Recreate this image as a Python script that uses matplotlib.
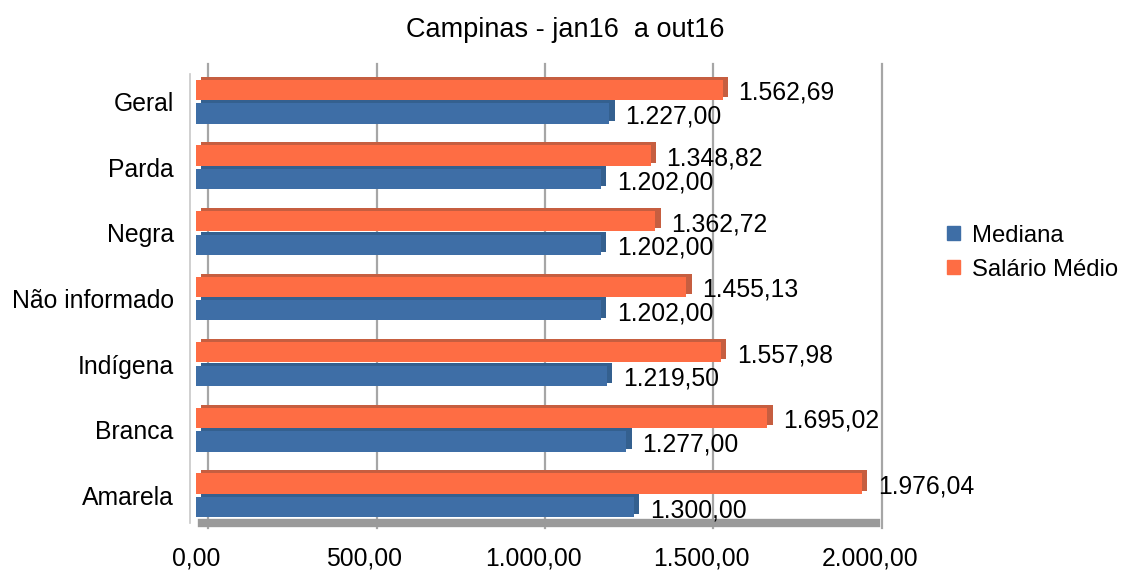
import matplotlib
matplotlib.use("Agg")
import matplotlib.pyplot as plt
import matplotlib.transforms as mtransforms
from matplotlib.patches import Patch
import numpy as np

categorias = ['Amarela', 'Branca', 'Indígena', 'Não informado', 'Negra', 'Parda', 'Geral']
mediana = [1300.00, 1277.00, 1219.50, 1202.00, 1202.00, 1202.00, 1227.00]
salario_medio = [1976.04, 1695.02, 1557.98, 1455.13, 1362.72, 1348.82, 1562.69]
ticks_x = [0, 500, 1000, 1500, 2000]

azul = '#3e6ea6'
azul_escuro = '#34608f'
laranja = '#fe6d44'
laranja_escuro = '#c65e40'


def formatar(v):
    s = f"{v:,.2f}"
    return s.replace(",", "X").replace(".", ",").replace("X", ".")


plt.rcParams['font.family'] = ['Liberation Sans', 'DejaVu Sans']
fs = 17.8

fig = plt.figure(figsize=(11.24, 5.74), dpi=100)
ax = fig.add_axes([0.1744, 0.0801, 0.5996, 0.7997])
ax.set_xlim(0, 2000)
ax.set_ylim(-0.5, 6.5)

# parede do fundo deslocada (efeito 3D)
fundo = ax.get_xaxis_transform() + mtransforms.ScaledTranslation(0.12, 0.0, fig.dpi_scale_trans)
for t in ticks_x:
    ax.plot([t, t], [0.0, 1.01], transform=fundo, color='#a6a6a6', lw=1.6, zorder=0, clip_on=False)
frente = ax.get_xaxis_transform() + mtransforms.ScaledTranslation(-0.06, 0.0, fig.dpi_scale_trans)
ax.plot([0, 0], [0.01, 0.99], transform=frente, color='#c8c8c8', lw=1.2, zorder=0, clip_on=False)
# piso
ax.plot([0, 2000], [-0.42, -0.42], color='#9a9a9a', lw=6, zorder=0, clip_on=False,
        transform=ax.transData + mtransforms.ScaledTranslation(0.06, 0.0, fig.dpi_scale_trans))

y = np.arange(len(categorias))
h = 0.31
dx = 16
dy = 0.045
for vals, cor, cor_esc, off in [(salario_medio, laranja, laranja_escuro, 0.18),
                                (mediana, azul, azul_escuro, -0.18)]:
    ax.barh(y + off + dy, vals, left=dx, height=h, color=cor_esc, zorder=2)
    ax.barh(y + off, vals, left=0, height=h, color=cor, zorder=3)
    for yi, v in zip(y, vals):
        ax.annotate(formatar(v), (v, yi + off), xytext=(16, -3), textcoords='offset pixels',
                    ha='left', va='center', fontsize=fs, zorder=5)

for s in ax.spines.values():
    s.set_visible(False)
ax.set_yticks(y)
ax.set_yticklabels(categorias, fontsize=fs)
ax.set_xticks(ticks_x)
ax.set_xticklabels([formatar(t) for t in ticks_x], fontsize=fs)
ax.tick_params(axis='both', length=0)
ax.tick_params(axis='y', pad=16)
ax.tick_params(axis='x', pad=13)

fig.text(0.503, 1 - 30 / 574, 'Campinas - jan16  a out16', ha='center', va='center', fontsize=19.5)

handles = [Patch(color=azul, label='Mediana'), Patch(color=laranja, label='Salário Médio')]
fig.legend(handles=handles, loc='center left', bbox_to_anchor=(0.8275, 0.56), frameon=False,
           fontsize=17.2, handlelength=0.55, handleheight=0.55, handletextpad=0.5,
           labelspacing=0.5, borderpad=0.2)

fig.savefig('out.png', dpi=100)
